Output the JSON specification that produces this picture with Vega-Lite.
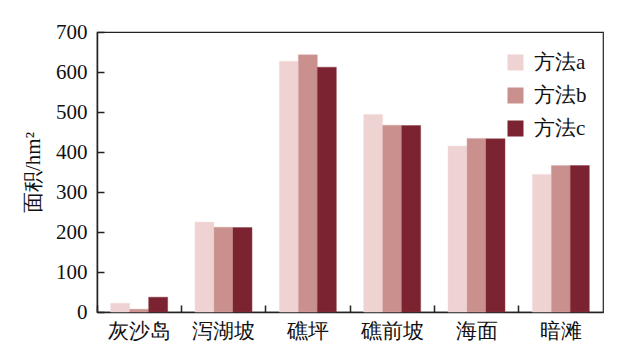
{
  "$schema": "https://vega.github.io/schema/vega-lite/v6.json",
  "width": 506,
  "height": 280,
  "autosize": {"type": "none"},
  "padding": {"left": 97, "top": 32, "right": 25, "bottom": 43},
  "background": "white",
  "config": {
    "view": {"stroke": "#222222", "strokeWidth": 1.2},
    "font": "Liberation Serif",
    "axis": {"grid": false, "domainColor": "#222222", "tickColor": "#222222", "labelColor": "#111111", "titleColor": "#111111", "labelFont": "Liberation Serif", "titleFont": "Liberation Serif"}
  },
  "data": {
    "values": [
      {"site": "灰沙岛", "method": "方法a", "area": 22},
      {"site": "灰沙岛", "method": "方法b", "area": 7},
      {"site": "灰沙岛", "method": "方法c", "area": 37},
      {"site": "泻湖坡", "method": "方法a", "area": 225},
      {"site": "泻湖坡", "method": "方法b", "area": 212},
      {"site": "泻湖坡", "method": "方法c", "area": 211},
      {"site": "礁坪", "method": "方法a", "area": 627},
      {"site": "礁坪", "method": "方法b", "area": 643},
      {"site": "礁坪", "method": "方法c", "area": 612},
      {"site": "礁前坡", "method": "方法a", "area": 494},
      {"site": "礁前坡", "method": "方法b", "area": 467},
      {"site": "礁前坡", "method": "方法c", "area": 466},
      {"site": "海面", "method": "方法a", "area": 415},
      {"site": "海面", "method": "方法b", "area": 434},
      {"site": "海面", "method": "方法c", "area": 433},
      {"site": "暗滩", "method": "方法a", "area": 344},
      {"site": "暗滩", "method": "方法b", "area": 366},
      {"site": "暗滩", "method": "方法c", "area": 366}
    ]
  },
  "mark": {"type": "bar", "strokeWidth": 0.8, "strokeOpacity": 0.6},
  "encoding": {
    "x": {
      "field": "site",
      "type": "nominal",
      "sort": ["灰沙岛", "泻湖坡", "礁坪", "礁前坡", "海面", "暗滩"],
      "scale": {"paddingInner": 0, "paddingOuter": 0},
      "axis": {"title": null, "labelAngle": 0, "labelFontSize": 21, "labelPadding": 15, "tickSize": -7, "bandPosition": 0, "domainWidth": 1.5, "tickWidth": 1.5}
    },
    "xOffset": {
      "field": "method",
      "type": "nominal",
      "scale": {"paddingInner": 0, "paddingOuter": 0.72}
    },
    "y": {
      "field": "area",
      "type": "quantitative",
      "scale": {"domain": [0, 700], "nice": false},
      "axis": {"title": "面积/hm²", "values": [0, 100, 200, 300, 400, 500, 600, 700], "labelFontSize": 21, "titleFontSize": 21, "titleFontWeight": "normal", "tickSize": -7, "labelPadding": 17, "titlePadding": 12, "domainWidth": 1.5, "tickWidth": 1.5}
    },
    "color": {
      "field": "method",
      "type": "nominal",
      "scale": {"domain": ["方法a", "方法b", "方法c"], "range": ["#efd3d3", "#c9908e", "#7b2330"]},
      "legend": {"title": null, "orient": "none", "legendX": 408, "legendY": 20, "symbolType": "square", "symbolSize": 256, "symbolStrokeWidth": 0, "labelFontSize": 21, "labelFont": "Liberation Serif", "labelColor": "#111111", "rowPadding": 11, "labelOffset": 8}
    },
    "stroke": {
      "field": "method",
      "type": "nominal",
      "scale": {"domain": ["方法a", "方法b", "方法c"], "range": ["#f5dede", "#d8a8a6", "#8e3a45"]},
      "legend": null
    }
  }
}
